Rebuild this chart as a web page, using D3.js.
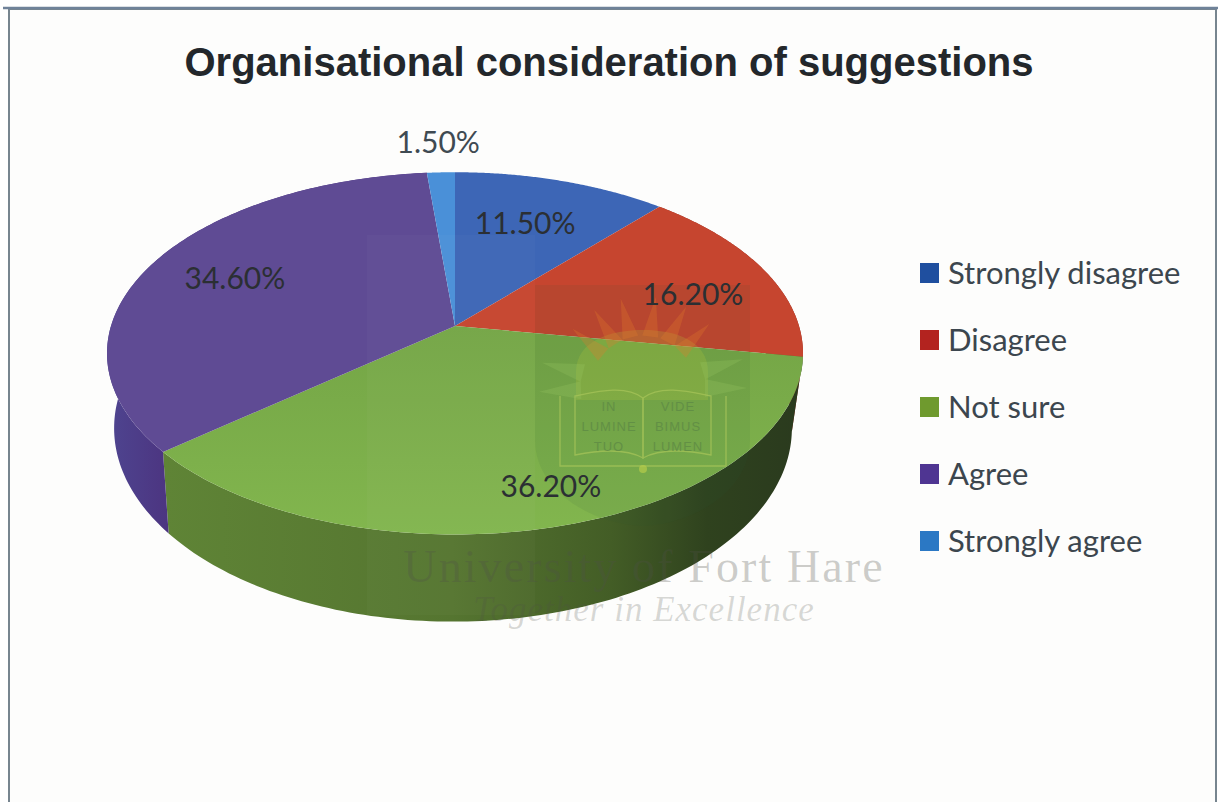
<!DOCTYPE html>
<html>
<head>
<meta charset="utf-8">
<title>Organisational consideration of suggestions</title>
<script src="https://cdn.jsdelivr.net/npm/d3@7"></script>
<style>
  html, body { margin: 0; padding: 0; background: #ffffff; }
  svg { display: block; }
</style>
</head>
<body>
<svg id="chart" width="1218" height="802"></svg>
<script>
// Survey responses
const categories = ["Strongly disagree", "Disagree", "Not sure", "Agree", "Strongly agree"];
const percentages = [11.5, 16.2, 36.2, 34.6, 1.5];
const percentLabels = ["11.50%", "16.20%", "36.20%", "34.60%", "1.50%"];
const chartTitle = "Organisational consideration of suggestions";

// Slice colours: top face, and legend swatch
const topColors = ["#3d66b6", "#c6452f", "#7dae4a", "#5f4b94", "#4a90d8"];
const swatchColors = ["#1f4f9f", "#b3231f", "#6f9a2e", "#4f3592", "#2b78c4"];

// Label placement relative to each slice: radial fraction, nudge in degrees
const labelRadius = [0.676, 0.735, 0.833, 0.725, 1.233];
const labelNudge = [-1.4, 4.8, -2, 0.7, 0];

const width = 1218, height = 802;
const svg = d3.select("#chart");
const defs = svg.append("defs");

// The pie is a tilted disc seen in perspective
const tilt = 0.151;
const rimTop = { cx: 455, cy: 326, rx: 344, ry: 177, k: tilt };
const rimBottom = { cx: 453, cy: 399, rx: 335, ry: 189, k: tilt };

function project(rim, angle, r = 1) {
  const u = Math.sin(angle) * r, v = Math.cos(angle) * r;
  const w = 1 + rim.k * v;
  return [rim.cx + rim.rx * u / w, rim.cy - rim.ry * v / w];
}

const color = d3.scaleOrdinal(categories, topColors);
const swatch = d3.scaleOrdinal(categories, swatchColors);
const arcs = d3.pie().sort(null).value(d => d)(percentages)
  .map((d, i) => ({ ...d, name: categories[i], label: percentLabels[i], index: i }));

const line = d3.line();
const steps = a => d3.range(0, 1.0001, 1 / 120).map(t => a.startAngle + t * (a.endAngle - a.startAngle));

// Background sheet and frame
svg.append("rect").attr("width", width).attr("height", height).attr("fill", "#ffffff");
svg.append("rect").attr("x", 9).attr("y", 9).attr("width", 1207).attr("height", 800)
  .attr("fill", "#fdfdfc").attr("stroke", "#77858f").attr("stroke-width", 2);
svg.append("line").attr("x1", 3).attr("x2", 1218).attr("y1", 8).attr("y2", 8)
  .attr("stroke", "#6f8299").attr("stroke-width", 2.5);

// Gradients for the rim and the top face
const wallGreen = defs.append("linearGradient").attr("id", "wallGreen")
  .attr("gradientUnits", "userSpaceOnUse")
  .attr("x1", 165).attr("x2", 803).attr("y1", 0).attr("y2", 0);
[[0, "#5f8436"], [0.45, "#557530"], [0.7, "#435d26"], [0.85, "#2f421e"], [1, "#2a3a1e"]]
  .forEach(([o, c]) => wallGreen.append("stop").attr("offset", o).attr("stop-color", c));

const wallPurple = defs.append("linearGradient").attr("id", "wallPurple")
  .attr("gradientUnits", "userSpaceOnUse")
  .attr("x1", 107).attr("x2", 170).attr("y1", 0).attr("y2", 0);
[[0, "#4e4590"], [1, "#4c3480"]]
  .forEach(([o, c]) => wallPurple.append("stop").attr("offset", o).attr("stop-color", c));

const topGreen = defs.append("linearGradient").attr("id", "topGreen")
  .attr("gradientUnits", "userSpaceOnUse")
  .attr("x1", 0).attr("x2", 0).attr("y1", 326).attr("y2", 535);
[[0, "#74a546"], [1, "#82b64e"]]
  .forEach(([o, c]) => topGreen.append("stop").attr("offset", o).attr("stop-color", c));

// Rim of the front slices
const wallFill = { "Disagree": "#8f2f22", "Not sure": "url(#wallGreen)", "Agree": "url(#wallPurple)" };
svg.append("g").selectAll("path")
  .data(arcs.filter(a => wallFill[a.name]))
  .join("path")
  .attr("fill", a => wallFill[a.name])
  .attr("d", a => {
    const angles = steps(a);
    const outer = angles.map(t => project(rimTop, t));
    const inner = angles.slice().reverse().map(t => project(rimBottom, t));
    return line(outer.concat(inner)) + "Z";
  });

// Top faces
svg.append("g").selectAll("path")
  .data(arcs)
  .join("path")
  .attr("fill", a => a.name === "Not sure" ? "url(#topGreen)" : color(a.name))
  .attr("d", a => line([[rimTop.cx, rimTop.cy]].concat(steps(a).map(t => project(rimTop, t)))) + "Z");

// University crest and wordmark laid over the sheet
const mark = svg.append("g").attr("class", "crest");
mark.append("rect").attr("x", 367).attr("y", 235).attr("width", 168).attr("height", 380)
  .attr("fill", "#ffffff").attr("opacity", 0.025);
const shieldPath = "M535,285 L750,285 L750,440 C750,490 695,524 643,526 C590,524 535,490 535,440 Z";
mark.append("path").attr("d", shieldPath).attr("fill", "#2f5a3a").attr("opacity", 0.09);
mark.append("path").attr("d", "M576,400 L576,372 C576,340 612,330 643,330 C674,330 708,340 708,372 L708,400 Z")
  .attr("fill", "#b7c93a").attr("opacity", 0.22);

// Sun rays: warm fan above the arch, cooler leaves at its sides
const rayAngles = [-50, -32, -14, 8, 28, 46];
mark.append("g").selectAll("path").data(rayAngles).join("path")
  .attr("d", "M-8,0 L0,-40 L8,0 Z")
  .attr("transform", d => `translate(643,388) rotate(${d}) translate(0,-52)`)
  .attr("fill", "#e07a2c").attr("opacity", 0.3);
mark.append("g").selectAll("path").data([-76, -92, 74, 90]).join("path")
  .attr("d", "M-9,0 L0,-42 L9,0 Z")
  .attr("transform", d => `translate(643,388) rotate(${d}) translate(0,-62)`)
  .attr("fill", "#9fcf6a").attr("opacity", 0.22);

const book = mark.append("g").attr("fill", "none").attr("stroke", "#a9c65a").attr("stroke-width", 1.4).attr("opacity", 0.7);
book.append("path").attr("d", "M643,398 C625,384 595,392 575,396 L575,455 C600,450 625,448 643,458 Z");
book.append("path").attr("d", "M643,398 C661,384 691,392 711,396 L711,455 C686,450 661,448 643,458 Z");
book.append("path").attr("d", "M560,396 L560,466 L726,466 L726,396");
const mottoLeft = ["IN", "LUMINE", "TUO"], mottoRight = ["VIDE", "BIMUS", "LUMEN"];
[[mottoLeft, 609], [mottoRight, 678]].forEach(([lines, x]) => {
  mark.append("g").selectAll("text").data(lines).join("text")
    .attr("x", x).attr("y", (d, i) => 411 + i * 20)
    .attr("text-anchor", "middle").attr("font-family", "Liberation Sans")
    .attr("font-size", 13).attr("letter-spacing", 1).attr("fill", "#5f8b45").attr("opacity", 0.8).text(d => d);
});
mark.append("circle").attr("cx", 643).attr("cy", 469).attr("r", 4).attr("fill", "#b5cc4a").attr("opacity", 0.7);

mark.append("text").attr("x", 644).attr("y", 582).attr("text-anchor", "middle")
  .attr("font-family", "Liberation Serif").attr("font-size", 46).attr("letter-spacing", 2.1)
  .attr("fill", "#4f5048").attr("fill-opacity", 0.28).text("University of Fort Hare");
mark.append("text").attr("x", 644).attr("y", 621).attr("text-anchor", "middle")
  .attr("font-family", "Liberation Serif").attr("font-style", "italic").attr("font-size", 35)
  .attr("letter-spacing", 1)
  .attr("fill", "#4f5048").attr("fill-opacity", 0.22).text("Together in Excellence");

// Title
svg.append("text").attr("x", 609).attr("y", 76).attr("text-anchor", "middle")
  .attr("font-family", "Liberation Sans").attr("font-weight", "bold").attr("font-size", 40)
  .attr("fill", "#23272b").text(chartTitle);

// Percentage labels on each slice
svg.append("g").selectAll("text").data(arcs).join("text")
  .attr("transform", a => {
    const mid = (a.startAngle + a.endAngle) / 2 + labelNudge[a.index] * Math.PI / 180;
    const [x, y] = project(rimTop, mid, labelRadius[a.index]);
    return `translate(${x},${y})`;
  })
  .attr("text-anchor", "middle").attr("dy", "0.36em")
  .attr("font-family", "Lato").attr("font-size", 30)
  .attr("fill", a => a.index === 4 ? "#3f4a52" : "#2b2f33")
  .text(a => a.label);

// Legend
const legendY = d3.scalePoint().domain(categories).range([273, 541]);
const legend = svg.append("g").selectAll("g").data(categories).join("g")
  .attr("transform", d => `translate(920,${legendY(d)})`);
legend.append("rect").attr("y", -10).attr("width", 19).attr("height", 20)
  .attr("fill", d => swatch(d));
legend.append("text").attr("x", 28).attr("dy", "0.36em")
  .attr("font-family", "Lato").attr("font-size", 31).attr("fill", "#3c464e")
  .text(d => d);
</script>
</body>
</html>
